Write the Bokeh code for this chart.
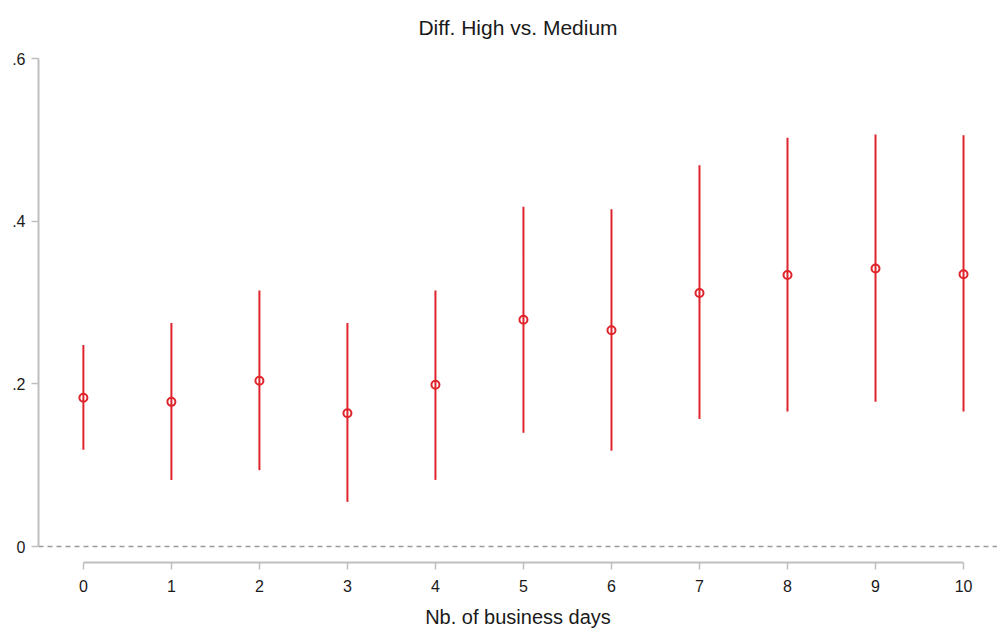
from bokeh.plotting import figure
from bokeh.models import Span, FixedTicker, ColumnDataSource
from bokeh.embed import file_html
from bokeh.resources import INLINE

days = [0, 1, 2, 3, 4, 5, 6, 7, 8, 9, 10]
estimate = [0.183, 0.178, 0.204, 0.164, 0.199, 0.279, 0.266, 0.312, 0.334, 0.342, 0.335]
ci_low = [0.119, 0.082, 0.094, 0.055, 0.082, 0.140, 0.118, 0.157, 0.166, 0.178, 0.166]
ci_high = [0.248, 0.275, 0.315, 0.275, 0.315, 0.418, 0.415, 0.469, 0.503, 0.507, 0.506]
y_ticks = [0, 0.2, 0.4, 0.6]
y_tick_labels = {0: "0", 0.2: ".2", 0.4: ".4", 0.6: ".6"}

src = ColumnDataSource(dict(x=days, y=estimate, lo=ci_low, hi=ci_high))

FONT = "Liberation Sans"
RED = "#e0242b"
AXIS = "#bfbfbf"

p = figure(width=997, height=630, output_backend="svg", toolbar_location=None,
           x_range=(-0.51, 10.386), y_range=(-0.0196, 0.609),
           title="Diff. High vs. Medium", min_border_left=38, min_border_right=0,
           min_border_top=50, min_border_bottom=60)
p.outline_line_color = None
p.grid.grid_line_color = None
p.background_fill_color = "white"
p.border_fill_color = "white"

p.title.align = "center"
p.title.text_font = FONT
p.title.text_font_size = "21px"
p.title.text_font_style = "normal"
p.title.text_color = "#1a1a1a"
p.title.offset = 6
p.title.standoff = 26

p.add_layout(Span(location=0, dimension="width", line_color="#9a9a9a",
                  line_dash="5 4", line_width=1.5))

p.segment(x0="x", y0="lo", x1="x", y1="hi", source=src, line_color=RED, line_width=2)
p.scatter(x="x", y="y", source=src, size=8, marker="circle", fill_color="white",
          fill_alpha=0.0, line_color=RED, line_width=2)

for ax in (p.xaxis[0], p.yaxis[0]):
    ax.axis_line_color = AXIS
    ax.axis_line_width = 2
    ax.major_tick_line_color = AXIS
    ax.major_tick_line_width = 1.5
    ax.major_tick_out = 7
    ax.major_tick_in = 0
    ax.minor_tick_line_color = None
    ax.major_label_text_font = FONT
    ax.major_label_text_font_size = "16px"
    ax.major_label_text_color = "#1a1a1a"

p.xaxis.ticker = FixedTicker(ticks=days)
p.xaxis.bounds = (0, 10)
p.xaxis.axis_label = "Nb. of business days"
p.xaxis.axis_label_text_font = FONT
p.xaxis.axis_label_text_font_size = "20px"
p.xaxis.axis_label_text_font_style = "normal"
p.xaxis.axis_label_text_color = "#1a1a1a"
p.xaxis.major_label_standoff = 10
p.xaxis.axis_label_standoff = 11

p.yaxis.ticker = FixedTicker(ticks=y_ticks)
p.yaxis.bounds = (0, 0.6)
p.yaxis.major_label_overrides = y_tick_labels
p.yaxis.major_label_orientation = "horizontal"
p.yaxis.major_label_standoff = 6

open("out.html", "w").write(file_html(p, INLINE))
